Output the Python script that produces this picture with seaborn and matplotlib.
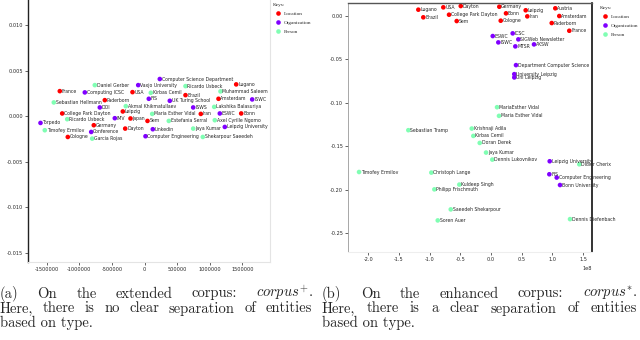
import matplotlib
matplotlib.use("Agg")
import matplotlib.pyplot as plt
import seaborn as sns
import pandas as pd
from matplotlib.ticker import MultipleLocator

# left panel: corpus+ (extended)
left_names = ["Computer Science Department", "Daniel Gerber", "Vaxjo University", "Ricardo Usbeck",
              "Lugano", "France", "Computing ICSC", "USA", "Kirbas Cemil", "Brazil", "Muhammad Saleem",
              "Sebastian Hellmann", "Paderborn", "FIS", "UK Turing School", "Amsterdam", "ISWC", "DOI",
              "Akmal Khikmatullaev", "ISWS", "Lakshika Balasuriya", "College Park Dayton", "Leipzig",
              "Maria Esther Vidal", "Iran", "ESWC", "Bonn", "Torpedo", "Ricardo Usbeck", "IMV", "Japan",
              "Sem", "Estefania Serral", "Axel Cyrille Ngomo", "Timofey Ermilov", "Germany", "Conference",
              "Dayton", "Linkedin", "Jaya Kumar", "Leipzig University", "Cologne", "Garcia Rojas",
              "Computer Engineering", "Shekarpour Saeedeh"]
left_x = [234700, -762300, -96600, 628800, 1406400, -1299100, -915600, -184000, 96600, 628800,
          1165600, -1391100, -608900, 66000, 388000, 1135000, 1651800, -685600, -286800, 746900,
          1069000, -1262300, -332800, 118100, 863500, 1154900, 1483100, -1595100, -1185600, -455500,
          -214700, 46000, 372700, 1078200, -1529100, -777600, -817500, -296000, 127300, 746900,
          1231600, -1176400, -802100, 15300, 894200]
left_y = [0.00408, 0.00341, 0.00341, 0.00330, 0.00349, 0.00275, 0.00261, 0.00264, 0.00257, 0.00231,
          0.00272, 0.00151, 0.00176, 0.00191, 0.00169, 0.00191, 0.00184, 0.00096, 0.00110, 0.00096,
          0.00102, 0.00030, 0.00052, 0.00025, 0.00025, 0.00030, 0.00030, -0.00074, -0.00033, -0.00022,
          -0.00025, -0.00052, -0.00052, -0.00044, -0.00154, -0.00099, -0.00173, -0.00136, -0.00143,
          -0.00136, -0.00118, -0.00228, -0.00246, -0.00220, -0.00228]
left_type = ["O", "P", "O", "P", "L", "L", "O", "L", "P", "L", "P",
             "P", "L", "O", "O", "L", "O", "O",
             "P", "O", "P", "L", "L",
             "P", "L", "O", "L", "O", "P", "O", "L",
             "L", "P", "P", "P", "L", "O",
             "L", "O", "P", "O", "L", "P",
             "O", "P"]

# right panel: corpus* (enhanced), x in units of 1e8
right_names = ["Lugano", "Brazil", "USA", "Dayton", "College Park Dayton", "Sem", "Germany", "Bonn",
               "Cologne", "Leipzig", "Iran", "Austria", "Amsterdam", "Paderborn", "France", "ESWC",
               "ICSC", "ISWC", "SIGWeb Newsletter", "AKSW", "MTSR", "Department Computer Science",
               "University Leipzig", "Uni Leipzig", "MariaEsther Vidal", "Maria Esther Vidal",
               "Sebastian Tramp", "Krishnaji Adila", "Kirbas Cemil", "Doran Derek", "Jaya Kumar",
               "Dennis Lukovnikov", "Leipzig University", "Didier Cherix", "Timofey Ermilov",
               "Christoph Lange", "FIS", "Computer Engineering", "Bonn University",
               "Philipp Frischmuth", "Kuldeep Singh", "Saeedeh Shekarpour", "Soren Auer",
               "Dennis Diefenbach"]
right_x = [-1.184, -1.103, -0.777, -0.493, -0.684, -0.559, 0.135, 0.244, 0.158, 0.565, 0.591,
           1.047, 1.112, 0.989, 1.275, 0.028, 0.353, 0.119, 0.445, 0.700, 0.396, 0.407, 0.379,
           0.379, 0.098, 0.130, -1.347, -0.314, -0.288, -0.184, -0.081, 0.021, 0.956, 1.438,
           -2.150, -0.972, 0.950, 1.070, 1.124, -0.923, -0.516, -0.656, -0.868, 1.287]
right_y = [0.0073, -0.0015, 0.0100, 0.0115, 0.0015, -0.0058, 0.0107, 0.0031, -0.0054, 0.0066,
           -0.0004, 0.0089, 0.0000, -0.0081, -0.0170, -0.0231, -0.0200, -0.0304, -0.0269, -0.0327,
           -0.0350, -0.0566, -0.0670, -0.0708, -0.1051, -0.1151, -0.1316, -0.1297, -0.1382,
           -0.1463, -0.1574, -0.1655, -0.1674, -0.1709, -0.1798, -0.1805, -0.1824, -0.1862,
           -0.1948, -0.1998, -0.1943, -0.2229, -0.2356, -0.2341]
right_type = ["L"] * 15 + ["O"] * 9 + ["P"] * 8 + ["O", "P", "P", "P", "O", "O", "O", "P", "P", "P", "P", "P"]

type_names = {"L": "Location", "O": "Organization", "P": "Person"}
hue_order = ["Location", "Organization", "Person"]
palette = {"Location": "#ff0000", "Organization": "#8000ff", "Person": "#80feb3"}

sns.set_style("ticks")
plt.rcParams["font.family"] = ["DejaVu Sans"]
plt.rcParams["axes.unicode_minus"] = False
plt.rcParams["mathtext.fontset"] = "cm"

fig = plt.figure(figsize=(6.4, 3.4), dpi=100)
lax = fig.add_axes([28 / 640, 1 - 262 / 340, 242 / 640, 262 / 340])
rax = fig.add_axes([348 / 640, 1 - 252 / 340, 244 / 640, 249 / 340])

legend_kw = dict(frameon=False, title="Keys:",
                 prop={"family": "Liberation Serif", "size": 3.8},
                 title_fontproperties={"family": "Liberation Serif", "size": 3.8},
                 alignment="left", handletextpad=0.1, labelspacing=0.8, borderaxespad=0.2)


def draw_panel(ax, names, xs, ys, types, xscale=1.0, legend_x=1.0):
    df = pd.DataFrame({"name": names, "x": [v * xscale for v in xs], "y": ys,
                       "type": [type_names[t] for t in types]})
    sns.scatterplot(data=df, x="x", y="y", hue="type", hue_order=hue_order, palette=palette,
                    s=11, linewidth=0, ax=ax)
    for _, r in df.iterrows():
        ax.annotate(r["name"], (r["x"], r["y"]), xytext=(1.3, 0), textcoords="offset points",
                    fontsize=3.3, va="center", ha="left")
    sns.move_legend(ax, "upper left", bbox_to_anchor=(legend_x, 1.0), **legend_kw)
    ax.set_xlabel("")
    ax.set_ylabel("")
    ax.tick_params(labelsize=3.6, length=2, width=0.5, pad=1.5)


draw_panel(lax, left_names, left_x, left_y, left_type)
lax.set_xlim(-1786800, 1924800)
lax.set_ylim(-0.016, 0.01275)
lax.xaxis.set_major_locator(MultipleLocator(500000))
lax.yaxis.set_major_locator(MultipleLocator(0.005))
lax.ticklabel_format(axis="x", style="plain")
lax.spines["left"].set_color("#222222")
lax.spines["left"].set_linewidth(1.0)
for s in ["bottom", "right"]:
    lax.spines[s].set_color("#e4e4e4")
    lax.spines[s].set_linewidth(0.8)
lax.spines["top"].set_visible(False)

draw_panel(rax, right_names, right_x, right_y, right_type, xscale=1e8, legend_x=1.02)
rax.set_xlim(-2.33e8, 1.645e8)
rax.set_ylim(-0.272, 0.015)
rax.xaxis.set_major_locator(MultipleLocator(0.5e8))
rax.yaxis.set_major_locator(MultipleLocator(0.05))
rax.xaxis.get_offset_text().set_fontsize(3.6)
rax.spines["left"].set_color("#999999")
rax.spines["left"].set_linewidth(0.6)
rax.spines["top"].set_color("#555555")
rax.spines["top"].set_linewidth(1.0)
rax.spines["right"].set_color("#111111")
rax.spines["right"].set_linewidth(1.2)
rax.spines["bottom"].set_color("#eeeeee")


def justify(words, x0, x1, ybase, size=10.5):
    r = fig.canvas.get_renderer()
    ts = [fig.text(0, 1 - ybase / 340, w, fontsize=size, family="cmr10", va="baseline") for w in words]
    ws = [t.get_window_extent(r).width for t in ts]
    gap = (x1 - x0 - sum(ws)) / (len(words) - 1)
    x = x0
    for t, w in zip(ts, ws):
        t.set_x(x / 640)
        x += w + gap


def plain(txt, x0, ybase, size=10.5):
    fig.text(x0 / 640, 1 - ybase / 340, txt, fontsize=size, family="cmr10", va="baseline")


cap_a1 = ["(a)", "On", "the", "extended", "corpus:", r"$\mathit{corpus}^{+}$."]
cap_b1 = ["(b)", "On", "the", "enhanced", "corpus:", r"$\mathit{corpus}^{*}$."]
cap_a2 = "Here, there is no clear separation of entities".split()
cap_b2 = "Here, there is a clear separation of entities".split()
cap_3 = "based on type."

justify(cap_a1, 0, 313, 297.5)
justify(cap_a2, 0, 312, 312.5)
plain(cap_3, 0, 327.5)
justify(cap_b1, 322, 637, 297.5)
justify(cap_b2, 322, 637, 312.5)
plain(cap_3, 322, 327.5)

fig.savefig("out.png", dpi=100)
